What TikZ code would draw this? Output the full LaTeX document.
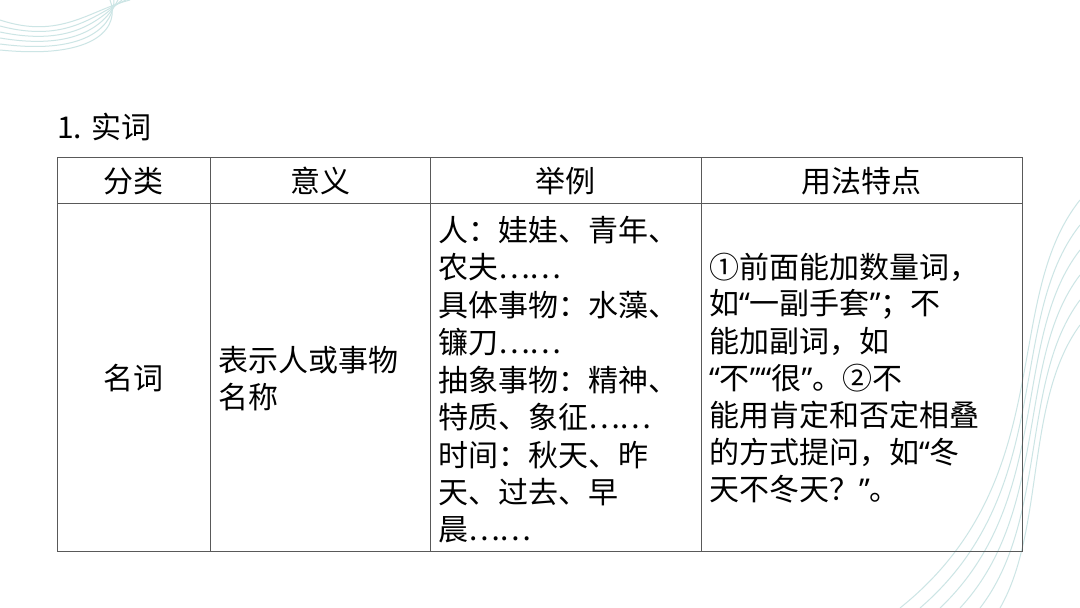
\documentclass[tikz,border=0pt]{standalone}
\usepackage{fontspec}
\setmainfont{Noto Sans CJK SC}
\newfontfamily\lat{Noto Sans}
\newcommand{\myl}{{\lat “}}
\newcommand{\myr}{{\lat ”}}
\begin{document}
\begin{tikzpicture}[x=1pt,y=-1pt,
  t/.style={anchor=west,inner sep=0pt,font=\fontsize{30}{30}\selectfont},
  c/.style={inner sep=0pt,font=\fontsize{30}{30}\selectfont},
  deco/.style={draw=teal!20,line width=1pt}]
\useasboundingbox (0,0) rectangle (1080,608);
\fill[white] (0,0) rectangle (1080,608);
\foreach \i in {0,...,5}{
  \draw[deco] (0,{20+\i*6}) .. controls ({60+\i*8},{40+\i*4}) and ({90+\i*6},{10+\i*3}) .. ({130-\i*4},0);
  \draw[deco] (1080,{200+\i*25}) .. controls ({1000+\i*5},{300+\i*20}) and ({1060-\i*3},{480+\i*10}) .. ({900+\i*20},608);
}
\node[anchor=west,inner sep=0pt,font=\fontsize{30}{30}\selectfont] (title) at (57,127) {1. 实词};
\draw[gray!70!black,line width=0.8pt] (57,157) rectangle (1022,551);
\draw[gray!70!black,line width=0.8pt] (57,203) -- (1022,203);
\foreach \x in {210,430,701} \draw[gray!70!black,line width=0.8pt] (\x,157) -- (\x,551);
\node[c] (h1) at (133,181) {分类};
\node[c] (h2) at (320,181) {意义};
\node[c] (h3) at (565,181) {举例};
\node[c] (h4) at (861,181) {用法特点};
\node[c] (n1) at (133,378) {名词};
\node[t] (m1) at (218,360) {表示人或事物};
\node[t] (m2) at (218,397) {名称};
\foreach \s [count=\k from 0] in {人：娃娃、青年、,农夫……,具体事物：水藻、,镰刀……,抽象事物：精神、,特质、象征……,时间：秋天、昨,天、过去、早,晨……}
  \node[t] (e\k) at (438,{230+\k*37.5}) {\s};
\foreach \s [count=\k from 0] in {①前面能加数量词，,如\myl 一副手套\myr；不,能加副词，如,\myl 不\myr\myl 很\myr。②不,能用肯定和否定相叠,的方式提问，如\myl 冬,天不冬天？\myr。}
  \node[t] (u\k) at (709,{267+\k*37}) {\s};
\end{tikzpicture}
\end{document}
